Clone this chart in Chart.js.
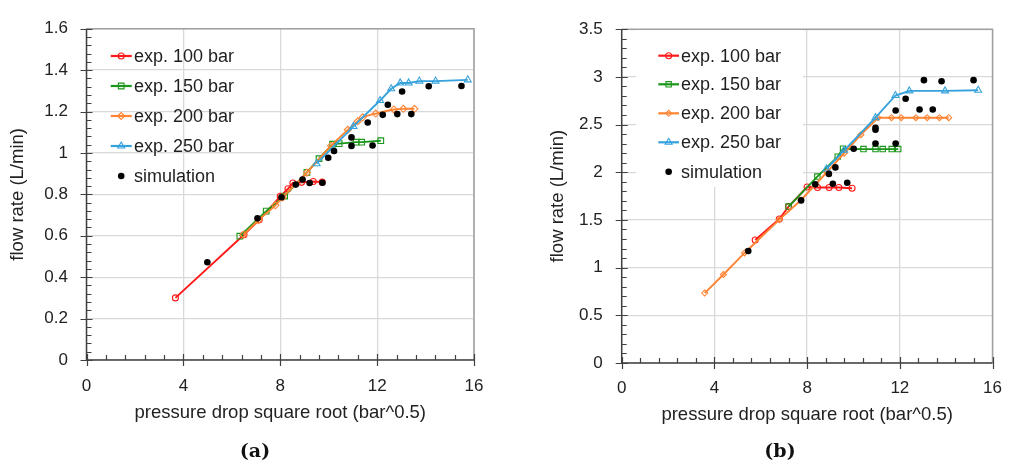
<!DOCTYPE html>
<html><head><meta charset="utf-8">
<script src="https://cdn.jsdelivr.net/npm/chart.js@4.4.1/dist/chart.umd.min.js"></script>
<style>
body{margin:0;background:#fff;width:1017px;height:462px;overflow:hidden;position:relative;font-family:"Liberation Sans",Arial,sans-serif;}
canvas{position:absolute;top:0;}
#ca{left:0}
#cb{left:540px}
.lab{position:absolute;top:439px;line-height:22px;font:bold 19px "DejaVu Serif",serif;color:#111;transform:translateX(-50%);}
</style></head><body>
<canvas id="ca" width="500" height="440"></canvas>
<canvas id="cb" width="477" height="440"></canvas>
<div class="lab" style="left:255px">(a)</div>
<div class="lab" style="left:780px">(b)</div>
<script>
// ---------- data ----------
const seriesNames = ['exp. 100 bar','exp. 150 bar','exp. 200 bar','exp. 250 bar','simulation'];
const xTitle = 'pressure drop square root (bar^0.5)';
const yTitle = 'flow rate (L/min)';
const xRange = [0, 16, 4];          // min, max, step
const yRangeA = [0, 1.6, 0.2];
const yRangeB = [0, 3.5, 0.5];

// chart (a)
const a100x = [3.67, 6.5, 7.13, 8.0, 8.32, 8.52, 8.88, 9.36, 9.73];
const a100y = [0.30, 0.605, 0.677, 0.79, 0.827, 0.855, 0.858, 0.862, 0.859];
const a150x = [6.33, 7.42, 8.18, 9.10, 9.6, 10.16, 10.43, 11.13, 11.36, 12.15];
const a150y = [0.598, 0.719, 0.792, 0.906, 0.972, 1.042, 1.045, 1.052, 1.052, 1.059];
const a200x = [6.48, 7.1, 7.8, 8.1, 9.1, 10.1, 10.79, 11.2, 11.4, 11.94, 12.69, 13.08, 13.54];
const a200y = [0.605, 0.675, 0.747, 0.785, 0.905, 1.035, 1.112, 1.153, 1.172, 1.19, 1.21, 1.213, 1.213];
const a250x = [9.5, 11.02, 12.12, 12.58, 12.95, 13.3, 13.74, 14.41, 15.74];
const a250y = [0.948, 1.128, 1.253, 1.31, 1.338, 1.338, 1.347, 1.347, 1.353];
const aSimx = [4.99, 7.06, 8.05, 8.64, 8.92, 9.21, 9.74, 9.98, 10.22, 10.94, 10.94, 11.81, 11.61, 12.23, 12.44, 12.83, 13.41, 13.03, 14.13, 15.48];
const aSimy = [0.472, 0.684, 0.786, 0.847, 0.872, 0.855, 0.856, 0.977, 1.009, 1.075, 1.034, 1.036, 1.147, 1.184, 1.233, 1.1875, 1.1875, 1.297, 1.322, 1.323];

// chart (b)
const b100x = [5.76, 6.8, 7.2, 8.0, 8.45, 8.95, 9.37, 9.94];
const b100y = [1.29, 1.51, 1.64, 1.845, 1.84, 1.84, 1.84, 1.832];
const b150x = [7.2, 8.44, 9.32, 9.55, 10.43, 10.95, 11.26, 11.65, 11.93];
const b150y = [1.64, 1.955, 2.164, 2.247, 2.243, 2.243, 2.243, 2.243, 2.243];
const b200x = [3.58, 4.39, 5.3, 6.8, 7.74, 8.85, 9.6, 10.32, 11.06, 11.64, 12.06, 12.69, 13.18, 13.71, 14.11];
const b200y = [0.733, 0.928, 1.154, 1.503, 1.709, 2.0, 2.2, 2.394, 2.572, 2.572, 2.572, 2.572, 2.572, 2.572, 2.572];
const b250x = [8.83, 9.6, 10.95, 11.81, 12.41, 13.95, 15.38];
const b250y = [2.034, 2.23, 2.572, 2.805, 2.853, 2.853, 2.86];
const bSimx = [5.46, 7.74, 8.35, 8.94, 9.22, 9.11, 9.73, 10.01, 10.95, 10.95, 10.95, 11.82, 11.82, 12.25, 12.85, 13.42, 13.04, 13.8, 15.18];
const bSimy = [1.175, 1.705, 1.873, 1.983, 2.051, 1.88, 1.89, 2.247, 2.466, 2.445, 2.301, 2.301, 2.647, 2.771, 2.658, 2.658, 2.966, 2.955, 2.966];

// ---------- styling ----------
Chart.defaults.font.family = '"Liberation Sans", Arial, sans-serif';
const COLORS = ['#ff1a1a', '#1a961a', '#ff8433', '#36a2dc', '#000000'];
const STYLES = ['circle', 'rect', 'rectRot', 'triangle', 'circle'];
const TXT = '#222222';

function pts(xs, ys) { return xs.map((x, i) => ({ x: x, y: ys[i] })); }

function makeDatasets(xsList, ysList, radii, tensions) {
  return xsList.map((xs, i) => {
    const sim = i === 4;
    return {
      label: seriesNames[i],
      data: pts(xs, ysList[i]),
      showLine: !sim,
      borderColor: COLORS[i],
      backgroundColor: sim ? '#000' : 'rgba(0,0,0,0)',
      borderWidth: 1.9,
      pointStyle: STYLES[i],
      pointRadius: radii[i],
      pointBorderWidth: sim ? 0 : 1.1,
      pointBorderColor: COLORS[i],
      pointBackgroundColor: sim ? '#000' : 'rgba(0,0,0,0)',
      tension: tensions[i],
      order: 4 - i
    };
  });
}

function drawMarker(ctx, style, r, x, y, color, filled) {
  ctx.save();
  ctx.strokeStyle = color; ctx.fillStyle = filled ? color : 'rgba(0,0,0,0)';
  ctx.lineWidth = 1.1;
  if (Chart.helpers && Chart.helpers.drawPoint) {
    Chart.helpers.drawPoint(ctx, { pointStyle: style, rotation: 0, radius: r, borderWidth: filled ? 0 : 1.1 }, x, y);
  } else {
    ctx.beginPath(); ctx.arc(x, y, r, 0, Math.PI * 2); filled ? ctx.fill() : ctx.stroke();
  }
  ctx.restore();
}

const framePlugin = {
  id: 'frame',
  beforeDatasetsDraw(chart, args, opts) {
    const ctx = chart.ctx;
    const L = opts.legend;
    ctx.save();
    if (L.box) {
      ctx.fillStyle = '#fff';
      ctx.fillRect(L.box[0], L.box[1], L.box[2] - L.box[0], L.box[3] - L.box[1]);
    }
    ctx.font = L.font + 'px "Liberation Sans", Arial, sans-serif';
    ctx.textBaseline = 'middle'; ctx.textAlign = 'left';
    L.rows.forEach((ry, i) => {
      const cx = (L.x0 + L.x1) / 2;
      if (i < 4) {
        ctx.strokeStyle = COLORS[i]; ctx.lineWidth = 2.2;
        ctx.beginPath(); ctx.moveTo(L.x0, ry); ctx.lineTo(L.x1, ry); ctx.stroke();
        drawMarker(ctx, STYLES[i], L.r[i], cx, ry, COLORS[i], false);
      } else {
        drawMarker(ctx, 'circle', L.r[i], cx, ry, '#000', true);
      }
      ctx.fillStyle = '#1e1e1e';
      ctx.fillText(seriesNames[i], L.tx, ry + 1);
    });
    ctx.restore();
  },
  afterDraw(chart, args, opts) {
    const { ctx, chartArea: { left, right, top, bottom }, scales: { x, y } } = chart;
    ctx.save();
    ctx.strokeStyle = '#a0a0a0'; ctx.lineWidth = 1.5;
    ctx.beginPath(); ctx.moveTo(left, top); ctx.lineTo(right, top); ctx.lineTo(right, bottom); ctx.stroke();
    ctx.strokeStyle = '#404040'; ctx.lineWidth = 1.5;
    ctx.beginPath(); ctx.moveTo(left, top); ctx.lineTo(left, bottom); ctx.lineTo(right, bottom); ctx.stroke();
    ctx.lineWidth = 1.2;
    ctx.beginPath();
    const ny = Math.round((y.max - y.min) / opts.yMinor);
    const yPer = Math.round(opts.yMajor / opts.yMinor);
    for (let i = 0; i <= ny; i++) {
      const py = Math.round(y.getPixelForValue(y.min + i * opts.yMinor)) + 0.5;
      if (i % yPer === 0) { ctx.moveTo(left - 6, py); ctx.lineTo(left + 6, py); }
      else { ctx.moveTo(left, py); ctx.lineTo(left + 5, py); }
    }
    const nx = Math.round((x.max - x.min) / opts.xMinor);
    const xPer = Math.round(opts.xMajor / opts.xMinor);
    for (let i = 0; i <= nx; i++) {
      const px = Math.round(x.getPixelForValue(x.min + i * opts.xMinor)) + 0.5;
      if (i % xPer === 0) { ctx.moveTo(px, bottom - 6); ctx.lineTo(px, bottom + 6); }
      else { ctx.moveTo(px, bottom - 5); ctx.lineTo(px, bottom); }
    }
    ctx.stroke();
    ctx.restore();
  }
};

function fmt(v) { return String(+Number(v).toFixed(2)); }

function makeScales(yRange, yW, xH, xPad, xTitlePB, yPad, yTitlePT) {
  return {
    x: {
      type: 'linear', min: xRange[0], max: xRange[1],
      ticks: { stepSize: xRange[2], padding: xPad, color: TXT, font: { size: 17 }, callback: fmt },
      grid: { color: '#d9d9d9', lineWidth: 1.3, drawTicks: false },
      border: { display: false },
      title: { display: true, text: xTitle, color: TXT, font: { size: 18.5 }, padding: { top: 0, bottom: xTitlePB } },
      afterFit(s) { s.height = xH; }
    },
    y: {
      type: 'linear', min: yRange[0], max: yRange[1],
      ticks: { stepSize: yRange[2], padding: yPad, color: TXT, font: { size: 17 }, callback: fmt },
      grid: { color: '#d9d9d9', lineWidth: 1.3, drawTicks: false },
      border: { display: false },
      title: { display: true, text: yTitle, color: TXT, font: { size: 18.5 }, padding: { top: yTitlePT, bottom: 0 } },
      afterFit(s) { s.width = yW; }
    }
  };
}

new Chart(document.getElementById('ca'), {
  type: 'scatter',
  data: { datasets: makeDatasets([a100x, a150x, a200x, a250x, aSimx], [a100y, a150y, a200y, a250y, aSimy], [3, 4, 3.5, 4, 3.3], [0, 0, 0.3, 0, 0]) },
  options: {
    responsive: false, animation: false,
    layout: { padding: { left: 0, top: 18.7, right: 20.4, bottom: 0 } },
    scales: makeScales(yRangeA, 86.5, 80, 16.5, 15.5, 18.5, 7),
    plugins: {
      legend: { display: false }, tooltip: { enabled: false },
      frame: { yMinor: 0.04, yMajor: 0.2, xMinor: 0.8, xMajor: 4,
        legend: { x0: 110.7, x1: 131.7, tx: 134, rows: [56, 86, 116, 146, 176], font: 18, r: [3, 4, 3.5, 4, 3.3], box: null } }
    }
  },
  plugins: [framePlugin]
});

new Chart(document.getElementById('cb'), {
  type: 'scatter',
  data: { datasets: makeDatasets([b100x, b150x, b200x, b250x, bSimx], [b100y, b150y, b200y, b250y, bSimy], [3, 3.8, 3, 4, 3.3], [0, 0, 0, 0, 0]) },
  options: {
    responsive: false, animation: false,
    layout: { padding: { left: 0, top: 22.3, right: 12.7, bottom: 0 } },
    scales: makeScales(yRangeB, 81.7, 77, 15, 14, 19, 7),
    plugins: {
      legend: { display: false }, tooltip: { enabled: false },
      frame: { yMinor: 0.1, yMajor: 0.5, xMinor: 0.8, xMajor: 4,
        legend: { x0: 118.3, x1: 139, tx: 141, rows: [55.7, 84.3, 113.3, 142.3, 171.7], font: 18, r: [3, 3.8, 3, 4, 3.3], box: [96, 25, 263, 187] } }
    }
  },
  plugins: [framePlugin]
});
</script>
</body></html>
